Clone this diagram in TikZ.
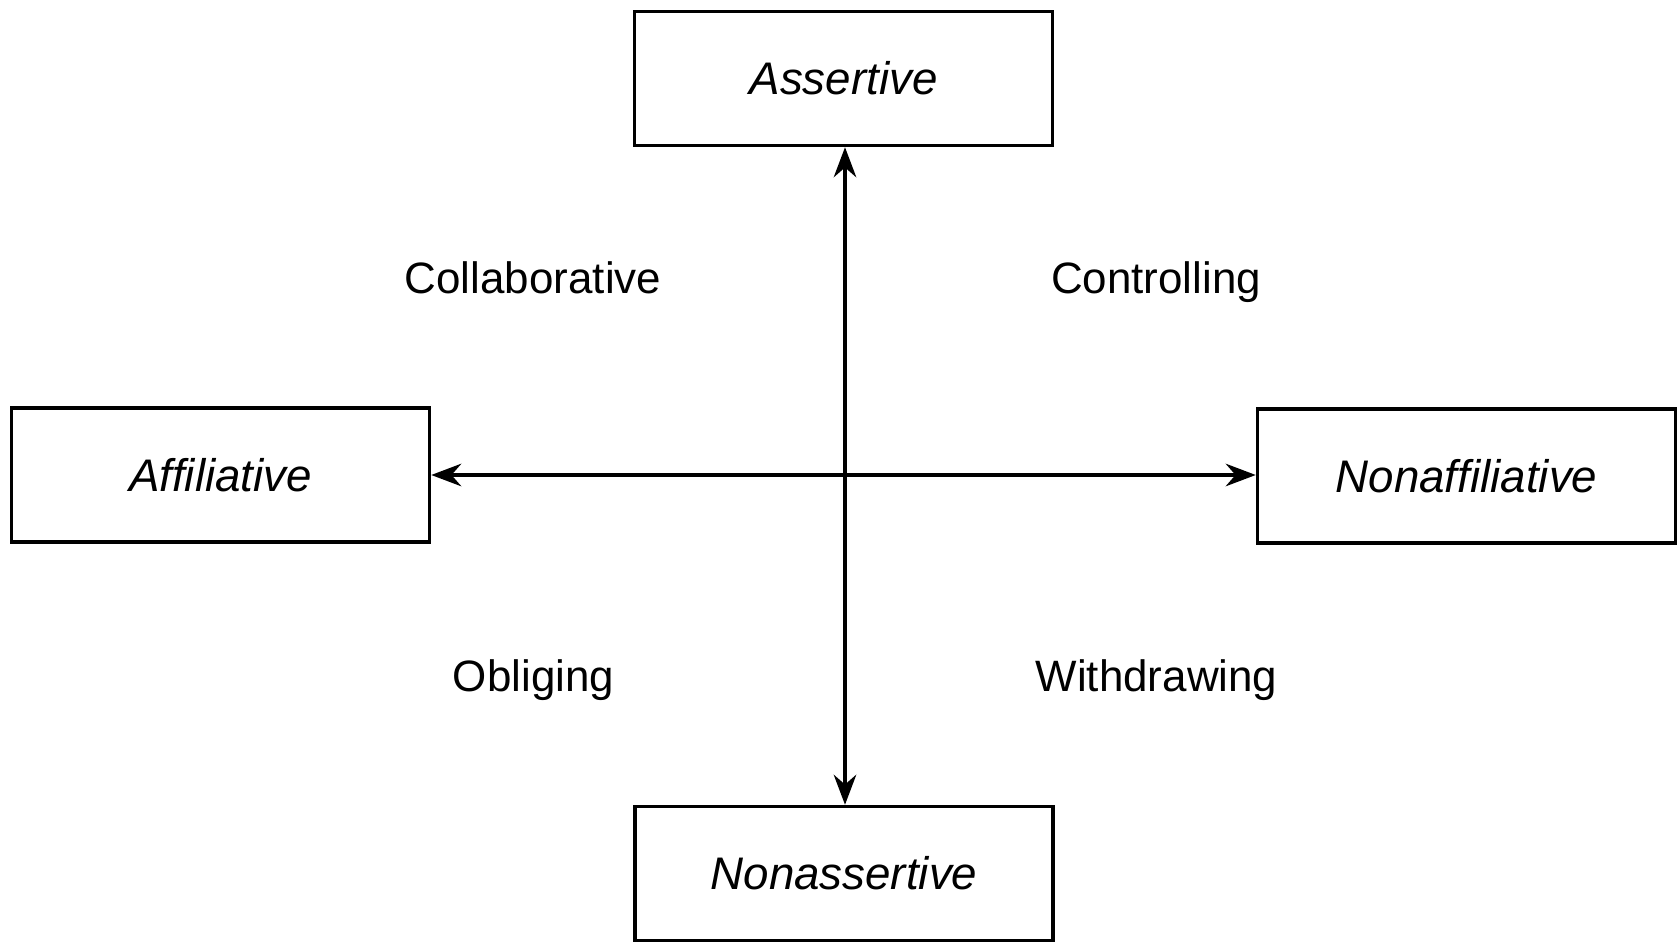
\documentclass[tikz,border=0pt]{standalone}
\usepackage{fontspec}
\setmainfont{Liberation Sans}
\usetikzlibrary{arrows.meta,positioning}

\begin{document}
\begin{tikzpicture}[->,>={Stealth[length=0.6cm,width=0.45cm]},line width=0.07cm,
   stylebox/.style={draw, minimum width=8.36cm, minimum height=2.68cm,
     font=\fontsize{26}{30}\selectfont\itshape},
   quad/.style={font=\fontsize{25}{30}\selectfont, text height=0.7em, text depth=0pt}]
   \useasboundingbox (0,0) rectangle (33.6,18.84);
   \node[stylebox] (assert) at (16.87, 17.27) {Assertive};
   \node[stylebox] (aff) at (4.41, 9.34) {Affiliative};
   \node[stylebox] (nonaff) at (29.33, 9.32) {Nonaffiliative};
   \node[stylebox] (nonassert) at (16.88, 1.37) {Nonassertive};
   \coordinate (o) at (16.9, 9.34);
   \node[quad] (collab) at (10.66, 13.1) {Collaborative};
   \node[quad] (control) at (23.12, 13.1) {Controlling};
   \node[quad] (oblige) at (10.67, 5.14) {Obliging};
   \node[quad] (withdraw) at (23.13, 5.14) {Withdrawing};
   \path (o) edge (assert.south -| o);
   \path (o) edge (nonassert.north -| o);
   \path (o) edge (aff.east |- o);
   \path (o) edge (nonaff.west |- o);
\end{tikzpicture}
\end{document}
